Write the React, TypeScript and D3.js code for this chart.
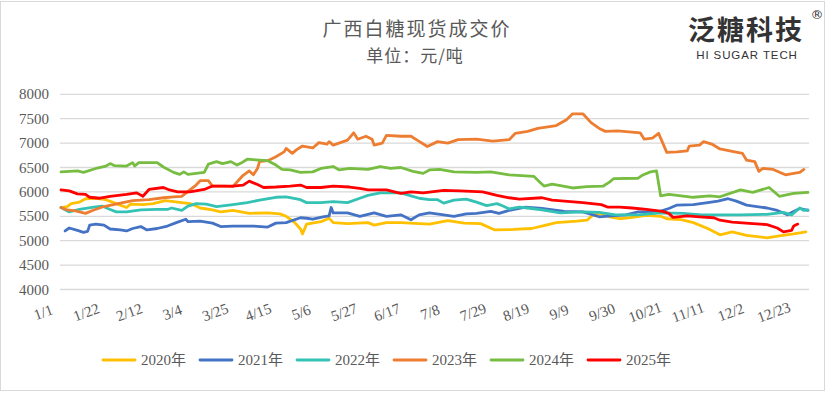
import React, { useEffect, useRef } from "react";
import * as d3 from "d3";

// day-of-year index (0 = 1/1), price in 元/吨
const years = ["2020年", "2021年", "2022年", "2023年", "2024年", "2025年"];
const colors = ["#FFC000", "#4472C4", "#33C2B4", "#ED7D31", "#76BD41", "#FF0000"];

const xLabels = ["1/1", "1/22", "2/12", "3/4", "3/25", "4/15", "5/6", "5/27", "6/17", "7/8", "7/29", "8/19", "9/9", "9/30", "10/21", "11/11", "12/2", "12/23"];
const xLabelDays = [0, 21, 42, 63, 84, 105, 126, 147, 168, 189, 210, 231, 252, 273, 294, 315, 336, 357];
const yTicks = [4000, 4500, 5000, 5500, 6000, 6500, 7000, 7500, 8000];

const s2020: [number, number][] = [
  [0, 5680], [3, 5700], [5, 5760], [9, 5790], [12, 5860], [17, 5870], [22, 5840], [27, 5760], [32, 5680], [34, 5750],
  [40, 5740], [45, 5760], [51, 5820], [57, 5790], [63, 5760], [66, 5710], [68, 5670], [74, 5630], [78, 5590], [84, 5620],
  [92, 5560], [101, 5570], [107, 5550], [110, 5500], [114, 5380], [117, 5240], [118, 5140], [120, 5340], [127, 5390],
  [131, 5460], [133, 5370], [140, 5350], [150, 5370], [153, 5320], [159, 5370], [166, 5370], [175, 5350], [180, 5340],
  [189, 5410], [197, 5360], [205, 5350], [212, 5220], [221, 5230], [230, 5250], [237, 5320], [242, 5370], [252, 5400],
  [257, 5420], [260, 5530], [264, 5550], [268, 5490], [273, 5450], [279, 5480], [286, 5520], [293, 5500], [296, 5450],
  [303, 5430], [309, 5370], [316, 5250], [322, 5120], [328, 5180], [335, 5110], [345, 5060], [351, 5100], [358, 5140], [364, 5180],
];

const s2021: [number, number][] = [
  [2, 5200], [4, 5260], [8, 5210], [11, 5170], [13, 5190], [14, 5320], [17, 5340], [21, 5320], [24, 5240], [29, 5220],
  [32, 5200], [35, 5250], [39, 5290], [42, 5220], [47, 5250], [52, 5300], [57, 5380], [61, 5440], [62, 5390], [68, 5400],
  [74, 5360], [78, 5290], [84, 5300], [94, 5300], [101, 5280], [105, 5360], [110, 5370], [117, 5470], [120, 5460],
  [123, 5440], [128, 5490], [131, 5510], [132, 5680], [133, 5570], [140, 5570], [146, 5500], [153, 5570], [159, 5500],
  [166, 5530], [171, 5430], [175, 5530], [180, 5570], [187, 5530], [192, 5500], [198, 5550], [203, 5560], [210, 5600],
  [214, 5560], [219, 5620], [227, 5690], [235, 5660], [246, 5600], [255, 5590], [260, 5530], [263, 5490], [269, 5510],
  [276, 5530], [282, 5590], [292, 5590], [297, 5660], [301, 5730], [309, 5740], [316, 5780], [321, 5810], [326, 5860],
  [330, 5810], [335, 5730], [345, 5670], [350, 5620], [355, 5530], [358, 5600], [361, 5660], [365, 5620],
];

const s2022: [number, number][] = [
  [0, 5680], [4, 5590], [9, 5640], [16, 5690], [20, 5710], [24, 5640], [27, 5590], [32, 5590], [39, 5630], [47, 5640],
  [52, 5640], [54, 5670], [59, 5620], [62, 5710], [66, 5760], [71, 5750], [76, 5700], [84, 5740], [91, 5780], [97, 5830],
  [105, 5890], [110, 5900], [117, 5840], [120, 5780], [127, 5780], [133, 5800], [140, 5780], [146, 5870], [150, 5930],
  [156, 5980], [166, 5980], [171, 5920], [175, 5870], [180, 5840], [184, 5840], [187, 5770], [192, 5830], [198, 5850],
  [203, 5790], [208, 5720], [213, 5760], [216, 5710], [219, 5650], [224, 5690], [228, 5670], [235, 5630], [244, 5570],
  [255, 5590], [263, 5580], [271, 5530], [282, 5530], [293, 5570], [304, 5560], [313, 5530], [322, 5530], [332, 5530],
  [345, 5540], [353, 5580], [357, 5530], [361, 5670], [363, 5620], [365, 5630],
];

const s2023: [number, number][] = [
  [0, 5680], [3, 5630], [7, 5610], [12, 5560], [16, 5630], [21, 5700], [29, 5770], [35, 5820], [43, 5840], [50, 5880],
  [55, 5900], [59, 5910], [63, 6040], [66, 6140], [68, 6230], [72, 6230], [74, 6120], [80, 6120], [84, 6110], [89, 6340],
  [92, 6430], [94, 6350], [96, 6480], [97, 6620], [101, 6640], [105, 6720], [109, 6820], [110, 6890], [113, 6790],
  [115, 6860], [118, 6940], [123, 6900], [126, 7010], [130, 6980], [131, 7030], [133, 6960], [140, 7060], [143, 7210],
  [145, 7080], [149, 7140], [152, 7080], [153, 6960], [157, 7000], [159, 7160], [166, 7140], [171, 7140], [174, 7060],
  [179, 6930], [184, 7030], [189, 7000], [194, 7070], [203, 7080], [211, 7040], [219, 7070], [222, 7200], [228, 7240],
  [233, 7300], [242, 7360], [247, 7480], [250, 7600], [255, 7600], [259, 7420], [263, 7300], [266, 7240], [272, 7250],
  [283, 7210], [285, 7080], [289, 7100], [292, 7200], [296, 6810], [301, 6820], [306, 6840], [307, 6940], [312, 6960],
  [314, 7030], [318, 6980], [322, 6880], [328, 6830], [333, 6790], [335, 6650], [339, 6620], [341, 6420], [343, 6480],
  [348, 6460], [354, 6350], [358, 6380], [361, 6400], [363, 6460],
];

const s2024: [number, number][] = [
  [0, 6410], [8, 6430], [11, 6400], [17, 6480], [22, 6530], [24, 6580], [26, 6540], [32, 6530], [35, 6600], [36, 6530],
  [38, 6600], [47, 6600], [50, 6510], [55, 6400], [58, 6360], [60, 6410], [62, 6360], [70, 6400], [72, 6570], [76, 6620],
  [79, 6580], [83, 6620], [86, 6550], [88, 6590], [91, 6670], [97, 6650], [101, 6640], [105, 6550], [108, 6460],
  [112, 6450], [117, 6400], [123, 6410], [127, 6480], [133, 6520], [136, 6450], [141, 6480], [150, 6460], [156, 6520],
  [161, 6480], [166, 6500], [172, 6420], [177, 6380], [180, 6450], [185, 6460], [192, 6410], [203, 6400], [210, 6410],
  [219, 6350], [231, 6320], [234, 6200], [236, 6120], [240, 6160], [250, 6080], [257, 6110], [265, 6120], [268, 6200],
  [270, 6270], [282, 6280], [284, 6340], [288, 6410], [291, 6430], [293, 5920], [297, 5950], [309, 5890], [317, 5920],
  [322, 5900], [332, 6040], [338, 5990], [346, 6090], [351, 5910], [358, 5970], [365, 5990],
];

const s2025: [number, number][] = [
  [0, 6040], [4, 6020], [8, 5960], [12, 5950], [14, 5890], [19, 5870], [24, 5910], [32, 5950], [37, 5980], [40, 5910],
  [43, 6050], [50, 6090], [53, 6040], [57, 6000], [63, 6000], [70, 6050], [74, 6120], [84, 6120], [89, 6140], [92, 6220],
  [96, 6150], [99, 6090], [105, 6100], [112, 6120], [117, 6140], [120, 6090], [127, 6090], [133, 6120], [141, 6100],
  [146, 6070], [150, 6040], [159, 6040], [166, 5970], [171, 6000], [177, 5980], [187, 6030], [195, 6020], [206, 6000],
  [213, 5930], [219, 5880], [224, 5850], [235, 5880], [240, 5830], [246, 5810], [255, 5780], [264, 5740], [267, 5690],
  [273, 5690], [279, 5670], [286, 5640], [294, 5600], [297, 5560], [299, 5480], [306, 5510], [312, 5490], [319, 5470],
  [322, 5420], [328, 5380], [338, 5350], [345, 5330], [350, 5260], [353, 5180], [357, 5210], [358, 5300], [360, 5340],
];

const series = [s2020, s2021, s2022, s2023, s2024, s2025];

const numFont = "'Liberation Serif', 'Noto Sans CJK SC', serif";
const cjkFont = "'Noto Sans CJK SC', sans-serif";

const App = () => {
  const ref = useRef<SVGSVGElement>(null);

  useEffect(() => {
    document.body.style.margin = "0";
    const svg = d3.select(ref.current);
    svg.selectAll("*").remove();

    const x = d3.scaleLinear().domain([-0.5, 365.5]).range([60, 809]);
    const y = d3.scaleLinear().domain([4000, 8000]).range([289.5, 94.3]);

    svg.append("rect")
      .attr("x", 0.5).attr("y", 1.5).attr("width", 824).attr("height", 389)
      .attr("fill", "#fff").attr("stroke", "#d9d9d9");

    // title
    svg.append("text").attr("x", 417).attr("y", 36).attr("text-anchor", "middle")
      .attr("font-family", cjkFont).attr("font-size", 19).attr("letter-spacing", 2)
      .attr("fill", "#595959").text("广西白糖现货成交价");
    svg.append("text").attr("x", 415).attr("y", 62).attr("text-anchor", "middle")
      .attr("font-family", cjkFont).attr("font-size", 17).attr("letter-spacing", 1)
      .attr("fill", "#595959").text("单位：元/吨");

    // logo
    svg.append("text").attr("x", 746).attr("y", 40).attr("text-anchor", "middle")
      .attr("font-family", cjkFont).attr("font-size", 27).attr("font-weight", 700)
      .attr("letter-spacing", 2).attr("fill", "#333").text("泛糖科技");
    svg.append("text").attr("x", 817).attr("y", 19).attr("text-anchor", "middle")
      .attr("font-family", "'DejaVu Sans', sans-serif").attr("font-size", 13)
      .attr("fill", "#333").text("®");
    svg.append("text").attr("x", 747).attr("y", 59).attr("text-anchor", "middle")
      .attr("font-family", "'Liberation Sans', Arial, sans-serif").attr("font-size", 11.5)
      .attr("letter-spacing", 0.9).attr("fill", "#333").text("HI SUGAR TECH");

    // grid + y labels
    const grid = svg.append("g");
    grid.selectAll("line").data(yTicks).enter().append("line")
      .attr("x1", 60).attr("x2", 809)
      .attr("y1", (d) => y(d)).attr("y2", (d) => y(d))
      .attr("stroke", "#d9d9d9").attr("stroke-width", 1.3);
    svg.append("g").selectAll("text").data(yTicks).enter().append("text")
      .attr("x", 49).attr("y", (d) => y(d) + 5).attr("text-anchor", "end")
      .attr("font-family", numFont).attr("font-size", 15).attr("fill", "#595959")
      .text((d) => d);

    // x labels
    svg.append("g").selectAll("text").data(xLabels).enter().append("text")
      .attr("transform", (d, i) => `translate(${x(xLabelDays[i]) - 16},${317}) rotate(-20)`)
      .attr("text-anchor", "middle")
      .attr("font-family", numFont).attr("font-size", 15).attr("fill", "#595959")
      .text((d) => d);

    // lines
    const line = d3.line<[number, number]>()
      .x((d) => x(d[0]))
      .y((d) => y(d[1]));
    svg.append("g").selectAll("path").data(series).enter().append("path")
      .attr("d", (d) => line(d))
      .attr("fill", "none")
      .attr("stroke", (d, i) => colors[i])
      .attr("stroke-width", 2.8)
      .attr("stroke-linejoin", "round")
      .attr("stroke-linecap", "round");

    // legend
    const legend = svg.append("g").selectAll("g").data(years).enter().append("g")
      .attr("transform", (d, i) => `translate(${103 + i * 97},360)`);
    legend.append("line").attr("x1", 0).attr("x2", 32).attr("y1", 0).attr("y2", 0)
      .attr("stroke", (d, i) => colors[i]).attr("stroke-width", 2.8).attr("stroke-linecap", "round");
    legend.append("text").attr("x", 38).attr("y", 5)
      .attr("font-family", numFont).attr("font-size", 15).attr("fill", "#595959")
      .text((d) => d);
  }, []);

  return <svg ref={ref} width={830} height={393} style={{ display: "block" }} />;
};

export default App;
